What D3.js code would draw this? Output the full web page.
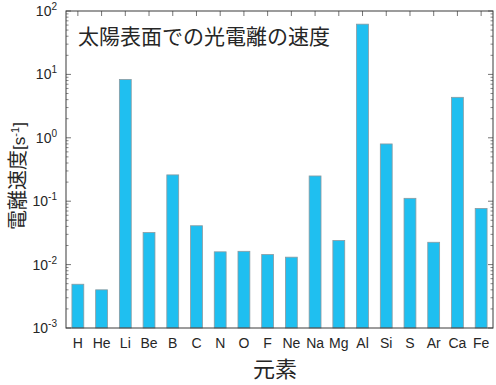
<!DOCTYPE html>
<html>
<head>
<meta charset="utf-8">
<script src="https://cdn.jsdelivr.net/npm/d3@7"></script>
<style>
  html, body { margin: 0; padding: 0; background: #fff; }
  svg { display: block; }
  text { font-family: "Liberation Sans", Arial, sans-serif; fill: #262626; }
  .jp { font-family: "Noto Sans CJK JP", "Noto Sans", sans-serif; }
</style>
</head>
<body>
<svg id="chart" width="496" height="385"></svg>
<script>
// Photoionization rates at the solar surface [s^-1]
const elements = ["H","He","Li","Be","B","C","N","O","F","Ne","Na","Mg","Al","Si","S","Ar","Ca","Fe"];
const rates = [0.0049, 0.0040, 8.3, 0.032, 0.26, 0.041, 0.0159, 0.0162, 0.0144, 0.0131, 0.25, 0.024, 62, 0.80, 0.111, 0.0225, 4.35, 0.077];
const yTickExps = [-3, -2, -1, 0, 1, 2];

const titleText = "太陽表面での光電離の速度";
const yLabel = "電離速度";
const xLabel = "元素";

const svg = d3.select("#chart");
const m = { left: 66, right: 3, top: 11, bottom: 57 };
const W = 496, H = 385;
const pw = W - m.left - m.right, ph = H - m.top - m.bottom;

const g = svg.append("g").attr("transform", `translate(${m.left},${m.top})`);

const x = d3.scaleBand().domain(elements).range([0, pw]).paddingInner(0.5).paddingOuter(0.25);
const y = d3.scaleLog().domain([1e-3, 1e2]).range([ph, 0]);

const axisColor = "#3a3a3a";

// bars
g.selectAll("rect.bar").data(elements).enter().append("rect")
  .attr("class", "bar")
  .attr("x", d => x(d))
  .attr("width", x.bandwidth())
  .attr("y", (d, i) => y(rates[i]))
  .attr("height", (d, i) => ph - y(rates[i]))
  .attr("fill", "#1fbff0")
  .attr("stroke", "#8a9aa0")
  .attr("stroke-width", 0.8);

// log ticks (major + minor), inward on left and right
const minorVals = [];
for (let e = -3; e < 2; e++) for (let k = 2; k <= 9; k++) minorVals.push(k * Math.pow(10, e));
const majorVals = yTickExps.map(e => Math.pow(10, e));

function tickSide(xPos, dir) {
  g.selectAll(null).data(majorVals).enter().append("line")
    .attr("x1", xPos).attr("x2", xPos + dir * 5)
    .attr("y1", d => y(d)).attr("y2", d => y(d))
    .attr("stroke", axisColor).attr("stroke-width", 0.7);
  g.selectAll(null).data(minorVals).enter().append("line")
    .attr("x1", xPos).attr("x2", xPos + dir * 2.5)
    .attr("y1", d => y(d)).attr("y2", d => y(d))
    .attr("stroke", axisColor).attr("stroke-width", 0.6);
}
tickSide(0, 1);
tickSide(pw, -1);

// category ticks at top, inward
g.selectAll(null).data(elements).enter().append("line")
  .attr("x1", d => x(d) + x.bandwidth() / 2).attr("x2", d => x(d) + x.bandwidth() / 2)
  .attr("y1", 0).attr("y2", 5)
  .attr("stroke", axisColor).attr("stroke-width", 0.7);

// frame
g.append("rect").attr("x", 0).attr("y", 0).attr("width", pw).attr("height", ph)
  .attr("fill", "none").attr("stroke", axisColor).attr("stroke-width", 1);

// y tick labels as 10^n
yTickExps.forEach(e => {
  const t = g.append("text")
    .attr("x", -9).attr("y", y(Math.pow(10, e)) + 5)
    .attr("text-anchor", "end")
    .style("font-size", "14px");
  t.append("tspan").text("10");
  t.append("tspan").attr("dy", -6).style("font-size", "10px").text(String(e));
});

// x category labels
g.selectAll(null).data(elements).enter().append("text")
  .attr("x", d => x(d) + x.bandwidth() / 2)
  .attr("y", ph + 20)
  .attr("text-anchor", "middle")
  .style("font-size", "14px")
  .text(d => d);

// title inside the plot
g.append("text").attr("class", "jp")
  .attr("x", 12).attr("y", 33)
  .style("font-size", "21px")
  .text(titleText);

// x axis label
svg.append("text").attr("class", "jp")
  .attr("x", 275).attr("y", 377)
  .attr("text-anchor", "middle")
  .style("font-size", "22px")
  .text(xLabel);

// y axis label (rotated)
const yl = svg.append("text")
  .attr("transform", "translate(25,176) rotate(-90)")
  .attr("text-anchor", "middle");
yl.append("tspan").attr("class", "jp").style("font-size", "20px").text(yLabel);
yl.append("tspan").style("font-size", "17px").text("[s");
yl.append("tspan").attr("dy", -6).style("font-size", "11px").text("-1");
yl.append("tspan").attr("dy", 6).style("font-size", "17px").text("]");
</script>
</body>
</html>
